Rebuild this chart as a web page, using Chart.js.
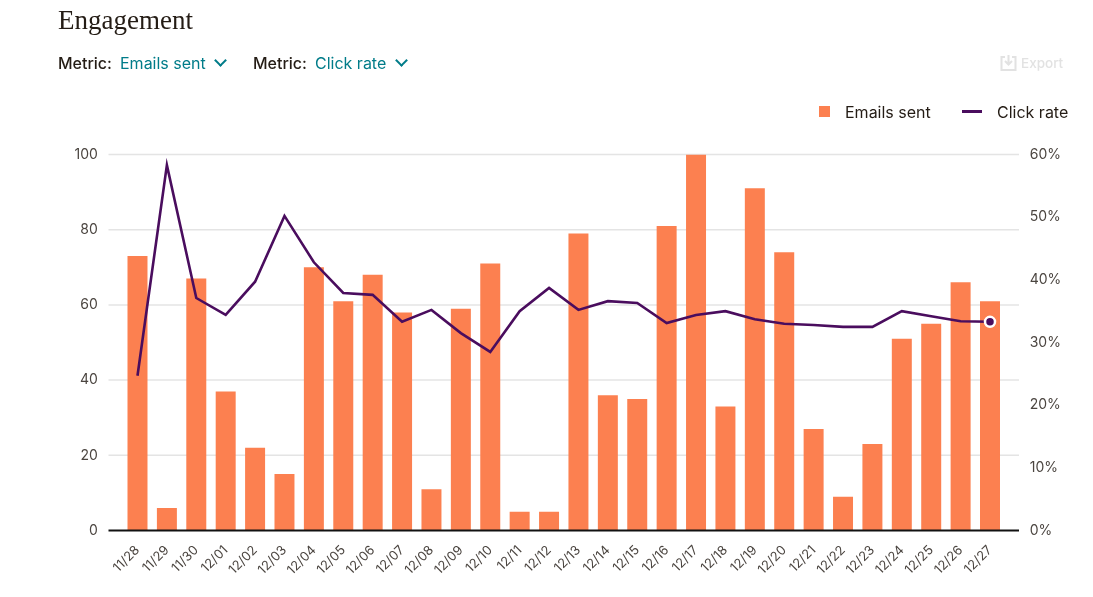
<!DOCTYPE html>
<html>
<head>
<meta charset="utf-8">
<title>Engagement</title>
<script src="https://cdn.jsdelivr.net/npm/chart.js@4"></script>
<style>
html, body { margin: 0; padding: 0; background: #fff; overflow: hidden; }
body { width: 1093px; height: 597px; position: relative; font-family: Inter, sans-serif; color: #241c15; }
canvas { position: absolute; left: 0; top: 0; }
.txt { position: absolute; white-space: nowrap; line-height: 20px; }
.title { left: 58px; top: 5px; font: 27px/30px "Liberation Serif", serif; }
.label { top: 53px; font-size: 16px; font-weight: 500; }
.value { top: 53px; font-size: 16px; color: #007c89; }
.chev { position: absolute; top: 56px; width: 7px; height: 7px; border-right: 2px solid #007c89; border-bottom: 2px solid #007c89; transform: rotate(45deg); }
.export { left: 1021px; top: 53px; font-size: 13.5px; font-weight: 500; color: #e2e2e2; }
.legend { top: 102px; font-size: 16px; }
.swatch { position: absolute; left: 819px; top: 106px; width: 11px; height: 11px; background: #fc8050; }
.dash { position: absolute; left: 962px; top: 110px; width: 20px; height: 2.5px; background: #4a0d5e; }
svg { position: absolute; left: 1000px; top: 55px; }
</style>
</head>
<body>
<canvas id="grafico" width="1093" height="597"></canvas>

<div class="txt title">Engagement</div>
<div class="txt label" style="left:58px">Metric:</div>
<div class="txt value" style="left:120px">Emails sent</div>
<div class="chev" style="left:216px"></div>
<div class="txt label" style="left:253px">Metric:</div>
<div class="txt value" style="left:315px">Click rate</div>
<div class="chev" style="left:397px"></div>

<svg width="17" height="16" viewBox="0 0 17 16" fill="none" stroke="#e2e2e2" stroke-width="2">
  <path d="M5 2H1.5V15H15.5V2H12"/>
  <path d="M8.5 0V9M5 6L8.5 9.5L12 6"/>
</svg>
<div class="txt export">Export</div>

<div class="swatch"></div>
<div class="txt legend" style="left:845px">Emails sent</div>
<div class="dash"></div>
<div class="txt legend" style="left:997px">Click rate</div>

<script>
const dias = ["11/28", "11/29", "11/30", "12/01", "12/02", "12/03", "12/04", "12/05", "12/06", "12/07",
    "12/08", "12/09", "12/10", "12/11", "12/12", "12/13", "12/14", "12/15", "12/16", "12/17",
    "12/18", "12/19", "12/20", "12/21", "12/22", "12/23", "12/24", "12/25", "12/26", "12/27"];

const emailsSent = [73, 6, 67, 37, 22, 15, 70, 61, 68, 58,
    11, 59, 71, 5, 5, 79, 36, 35, 81, 100,
    33, 91, 74, 27, 9, 23, 51, 55, 66, 61];

const clickRate = [24.7, 58.3, 37.1, 34.4, 39.7, 50.2, 42.8, 37.9, 37.6, 33.3,
    35.2, 31.5, 28.5, 35.0, 38.7, 35.2, 36.6, 36.3, 33.1, 34.4,
    35.0, 33.7, 33.0, 32.8, 32.5, 32.5, 35.0, 34.2, 33.4, 33.3];

const tickFont = { family: "Inter, sans-serif", size: 14 };
const xTickFont = { family: "Inter, sans-serif", size: 13 };
const tickColor = "#4b4540";

// the grid lines run past the bars on both sides, out to these x positions
const gridLeft = 108.5;
const gridRight = 1019;

const linhasGrade = {
    id: "linhasGrade",
    beforeDatasetsDraw(chart) {
        const ctx = chart.ctx;
        const y = chart.scales.y;
        ctx.save();
        ctx.strokeStyle = "#e4e4e4";
        ctx.lineWidth = 1.5;
        y.ticks.forEach(t => {
            if (t.value === 0) return;
            const py = y.getPixelForValue(t.value);
            ctx.beginPath();
            ctx.moveTo(gridLeft, py);
            ctx.lineTo(gridRight, py);
            ctx.stroke();
        });
        ctx.restore();
    },
    afterDatasetsDraw(chart) {
        const ctx = chart.ctx;
        const py = chart.scales.y.getPixelForValue(0);
        ctx.save();
        ctx.strokeStyle = "#111111";
        ctx.lineWidth = 2;
        ctx.beginPath();
        ctx.moveTo(gridLeft, py);
        ctx.lineTo(gridRight, py);
        ctx.stroke();
        ctx.restore();
    }
};

new Chart(document.getElementById("grafico").getContext("2d"), {
    type: "bar",
    plugins: [linhasGrade],
    data: {
        labels: dias,
        datasets: [
            {
                type: "line",
                label: "Click rate",
                data: clickRate,
                yAxisID: "y2",
                borderColor: "#4a0d5e",
                borderWidth: 2.6,
                tension: 0,
                order: 1,
                pointRadius: ctx => ctx.dataIndex === dias.length - 1 ? 5 : 0,
                pointBackgroundColor: "#4a0d5e",
                pointBorderColor: "#ffffff",
                pointBorderWidth: 2.5
            },
            {
                type: "bar",
                label: "Emails sent",
                data: emailsSent,
                yAxisID: "y",
                backgroundColor: "#fc8050",
                categoryPercentage: 1,
                barPercentage: 0.68,
                order: 2
            }
        ]
    },
    options: {
        responsive: false,
        animation: false,
        layout: { padding: { top: 154.5 } },
        plugins: { legend: { display: false }, tooltip: { enabled: false } },
        scales: {
            x: {
                grid: { display: false },
                border: { display: false },
                ticks: {
                    autoSkip: false,
                    minRotation: 45,
                    maxRotation: 45,
                    padding: 4,
                    color: tickColor,
                    font: xTickFont
                },
                afterFit(scale) { scale.height = 66.5; }
            },
            y: {
                position: "left",
                min: 0,
                max: 100,
                grid: { display: false, drawTicks: false },
                border: { display: false },
                ticks: { stepSize: 20, padding: 25, color: tickColor, font: tickFont },
                afterFit(scale) { scale.width = 122.8; }
            },
            y2: {
                position: "right",
                min: 0,
                max: 60,
                grid: { display: false, drawTicks: false },
                border: { display: false },
                ticks: {
                    stepSize: 10,
                    padding: 25,
                    color: tickColor,
                    font: tickFont,
                    callback: v => v + "%"
                },
                afterFit(scale) { scale.width = 88.3; }
            }
        }
    }
});
</script>
</body>
</html>
